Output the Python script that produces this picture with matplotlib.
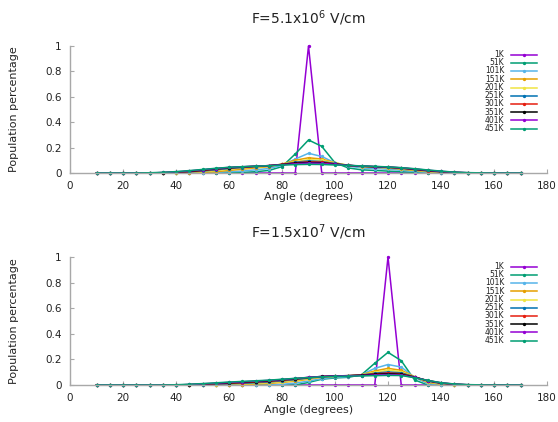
import matplotlib
matplotlib.use("Agg")
import matplotlib.pyplot as plt

angles = [10, 15, 20, 25, 30, 35, 40, 45, 50, 55, 60, 65, 70, 75, 80, 85, 90, 95, 100,
          105, 110, 115, 120, 125, 130, 135, 140, 145, 150, 155, 160, 165, 170]
labels = ["1K", "51K", "101K", "151K", "201K", "251K", "301K", "351K", "401K", "451K"]
colors = ["#9400d3", "#009e73", "#56b4e9", "#e69f00", "#f0e442", "#0072b2",
          "#e51e10", "#000000", "#9400d3", "#009e73"]

titles = ["F=5.1x10$^{6}$ V/cm", "F=1.5x10$^{7}$ V/cm"]
x_ticks = [0, 20, 40, 60, 80, 100, 120, 140, 160, 180]
y_ticks = [0, 0.2, 0.4, 0.6, 0.8, 1]
y_tick_labels = ["0", "0.2", "0.4", "0.6", "0.8", "1"]

# ---- Top panel (F=5.1x10^6 V/cm), peak at 90 deg ----
top_1K = [0, 0, 0, 0, 0, 0, 0, 0, 0, 0, 0, 0, 0, 0, 0, 0, 1, 0, 0,
          0, 0, 0, 0, 0, 0, 0, 0, 0, 0, 0, 0, 0, 0]
top_51K = [0, 0, 0, 0, 0, 0, 0, 0, 0, 0, 0.002, 0.005, 0.01, 0.02, 0.05, 0.15, 0.26, 0.21, 0.08,
           0.04, 0.025, 0.02, 0.015, 0.01, 0.005, 0.002, 0, 0, 0, 0, 0, 0, 0]
top_101K = [0, 0, 0, 0, 0, 0, 0, 0, 0.002, 0.005, 0.01, 0.015, 0.025, 0.035, 0.06, 0.11, 0.155, 0.13, 0.08,
            0.055, 0.04, 0.035, 0.03, 0.022, 0.012, 0.005, 0.002, 0, 0, 0, 0, 0, 0]
top_151K = [0, 0, 0, 0, 0, 0, 0, 0.002, 0.005, 0.01, 0.02, 0.03, 0.04, 0.05, 0.07, 0.1, 0.12, 0.11, 0.08,
            0.06, 0.05, 0.045, 0.04, 0.03, 0.02, 0.01, 0.004, 0.001, 0, 0, 0, 0, 0]
top_201K = [0, 0, 0, 0, 0, 0, 0.002, 0.005, 0.01, 0.02, 0.03, 0.04, 0.045, 0.055, 0.07, 0.09, 0.105, 0.1, 0.08,
            0.06, 0.05, 0.047, 0.043, 0.035, 0.025, 0.013, 0.006, 0.002, 0, 0, 0, 0, 0]
top_251K = [0, 0, 0, 0, 0, 0, 0.004, 0.008, 0.015, 0.025, 0.035, 0.043, 0.05, 0.057, 0.068, 0.085, 0.095, 0.09, 0.075,
            0.06, 0.052, 0.048, 0.044, 0.037, 0.027, 0.016, 0.008, 0.003, 0.001, 0, 0, 0, 0]
top_301K = [0, 0, 0, 0, 0, 0.002, 0.005, 0.01, 0.02, 0.03, 0.04, 0.046, 0.052, 0.058, 0.067, 0.08, 0.088, 0.085, 0.072,
            0.06, 0.053, 0.049, 0.045, 0.038, 0.029, 0.018, 0.009, 0.004, 0.001, 0, 0, 0, 0]
top_351K = [0, 0, 0, 0, 0, 0.003, 0.007, 0.013, 0.023, 0.033, 0.042, 0.048, 0.053, 0.058, 0.066, 0.077, 0.083, 0.08, 0.07,
            0.06, 0.054, 0.05, 0.046, 0.04, 0.03, 0.02, 0.011, 0.005, 0.002, 0, 0, 0, 0]
top_401K = [0, 0, 0, 0, 0, 0.004, 0.009, 0.016, 0.026, 0.035, 0.044, 0.049, 0.054, 0.058, 0.064, 0.073, 0.078, 0.076, 0.068,
            0.06, 0.055, 0.051, 0.047, 0.041, 0.032, 0.022, 0.013, 0.006, 0.002, 0, 0, 0, 0]
top_451K = [0, 0, 0, 0, 0.002, 0.005, 0.011, 0.019, 0.028, 0.037, 0.045, 0.05, 0.054, 0.057, 0.062, 0.066, 0.068, 0.067, 0.063,
            0.06, 0.056, 0.052, 0.048, 0.042, 0.034, 0.024, 0.015, 0.007, 0.003, 0.001, 0, 0, 0]

# ---- Bottom panel (F=1.5x10^7 V/cm), peak at 120 deg ----
bot_1K = [0, 0, 0, 0, 0, 0, 0, 0, 0, 0, 0, 0, 0, 0, 0, 0, 0, 0, 0,
          0, 0, 0, 1, 0, 0, 0, 0, 0, 0, 0, 0, 0, 0]
bot_51K = [0, 0, 0, 0, 0, 0, 0, 0, 0, 0, 0, 0, 0, 0, 0, 0, 0.02, 0.045, 0.055,
           0.06, 0.08, 0.17, 0.255, 0.19, 0.04, 0, 0, 0, 0, 0, 0, 0, 0]
bot_101K = [0, 0, 0, 0, 0, 0, 0, 0, 0, 0, 0, 0, 0, 0, 0.005, 0.015, 0.03, 0.05, 0.06,
            0.065, 0.08, 0.13, 0.16, 0.14, 0.06, 0.01, 0.002, 0, 0, 0, 0, 0, 0]
bot_151K = [0, 0, 0, 0, 0, 0, 0, 0, 0, 0, 0, 0.003, 0.007, 0.012, 0.02, 0.03, 0.045, 0.06, 0.067,
            0.07, 0.08, 0.11, 0.13, 0.115, 0.065, 0.02, 0.006, 0.001, 0, 0, 0, 0, 0]
bot_201K = [0, 0, 0, 0, 0, 0, 0, 0, 0, 0.002, 0.005, 0.008, 0.012, 0.018, 0.026, 0.036, 0.05, 0.062, 0.068,
            0.071, 0.08, 0.1, 0.115, 0.105, 0.065, 0.025, 0.009, 0.002, 0, 0, 0, 0, 0]
bot_251K = [0, 0, 0, 0, 0, 0, 0, 0, 0.002, 0.005, 0.009, 0.013, 0.018, 0.024, 0.032, 0.042, 0.054, 0.064, 0.069,
            0.072, 0.078, 0.092, 0.102, 0.095, 0.064, 0.03, 0.012, 0.004, 0.001, 0, 0, 0, 0]
bot_301K = [0, 0, 0, 0, 0, 0, 0, 0.002, 0.005, 0.009, 0.013, 0.018, 0.023, 0.029, 0.037, 0.046, 0.057, 0.066, 0.07,
            0.073, 0.077, 0.087, 0.094, 0.088, 0.063, 0.033, 0.014, 0.005, 0.001, 0, 0, 0, 0]
bot_351K = [0, 0, 0, 0, 0, 0, 0, 0.003, 0.007, 0.012, 0.017, 0.022, 0.027, 0.033, 0.041, 0.049, 0.059, 0.067, 0.071,
            0.073, 0.076, 0.083, 0.088, 0.083, 0.061, 0.034, 0.016, 0.006, 0.002, 0, 0, 0, 0]
bot_401K = [0, 0, 0, 0, 0, 0, 0, 0.004, 0.009, 0.014, 0.02, 0.025, 0.03, 0.036, 0.043, 0.051, 0.06, 0.066, 0.07,
            0.072, 0.074, 0.078, 0.082, 0.078, 0.059, 0.035, 0.017, 0.007, 0.002, 0, 0, 0, 0]
bot_451K = [0, 0, 0, 0, 0, 0, 0.002, 0.006, 0.011, 0.017, 0.023, 0.028, 0.033, 0.038, 0.045, 0.052, 0.058, 0.064, 0.067,
            0.069, 0.071, 0.073, 0.075, 0.074, 0.057, 0.036, 0.018, 0.008, 0.003, 0.001, 0, 0, 0]

panels = [
    [top_1K, top_51K, top_101K, top_151K, top_201K, top_251K, top_301K, top_351K, top_401K, top_451K],
    [bot_1K, bot_51K, bot_101K, bot_151K, bot_201K, bot_251K, bot_301K, bot_351K, bot_401K, bot_451K],
]

W, H = 558, 422
fig = plt.figure(figsize=(W / 100, H / 100), dpi=100)
plt.rcParams['font.family'] = ['DejaVu Sans']

# axes boxes in pixels: left, right, top(y=1), bottom(y=0)
boxes = [(70, 547, 46, 173), (70, 547, 257, 385)]
legend_tops = [50, 262]
title_y = [18, 232]
xlabel_y = [197, 410]

txt_color = "#222222"
axis_color = "#a8a8a8"

for i, series in enumerate(panels):
    l, r, t, b = boxes[i]
    ax = fig.add_axes([l / W, 1 - b / H, (r - l) / W, (b - t) / H])
    handles = []
    for vals, lab, col in zip(series, labels, colors):
        h, = ax.plot(angles, vals, color=col, lw=1.1, marker='o', ms=2.4,
                     markeredgewidth=0, label=lab, clip_on=False)
        handles.append(h)
    ax.set_xlim(0, 180)
    ax.set_ylim(0, 1)
    ax.set_xticks(x_ticks)
    ax.set_yticks(y_ticks)
    ax.set_yticklabels(y_tick_labels)
    for s in ["top", "right"]:
        ax.spines[s].set_visible(False)
    for s in ["left", "bottom"]:
        ax.spines[s].set_color(axis_color)
        ax.spines[s].set_linewidth(1.0)
    ax.tick_params(direction='in', length=3, width=0.8, color=axis_color,
                   labelsize=7.5, labelcolor=txt_color, pad=6)
    ax.set_facecolor('none')
    fig.text((l + r) / 2 / W, 1 - title_y[i] / H, titles[i], ha='center', va='center',
             fontsize=10, color=txt_color)
    fig.text((l + r) / 2 / W, 1 - xlabel_y[i] / H, "Angle (degrees)", ha='center', va='center',
             fontsize=8, color=txt_color)
    fig.text(14 / W, 1 - (t + b) / 2 / H, "Population percentage", ha='center', va='center',
             rotation=90, fontsize=8, color=txt_color)
    leg = fig.legend(handles=handles, labels=labels, loc='upper right',
                     bbox_to_anchor=(537 / W, 1 - legend_tops[i] / H),
                     frameon=False, markerfirst=False, fontsize=5.5, handlelength=3.4,
                     handleheight=0.5, labelspacing=-0.1, handletextpad=0.9,
                     borderpad=0, borderaxespad=0)
    for txt in leg.get_texts():
        txt.set_color(txt_color)

fig.savefig("out.png", dpi=100)
